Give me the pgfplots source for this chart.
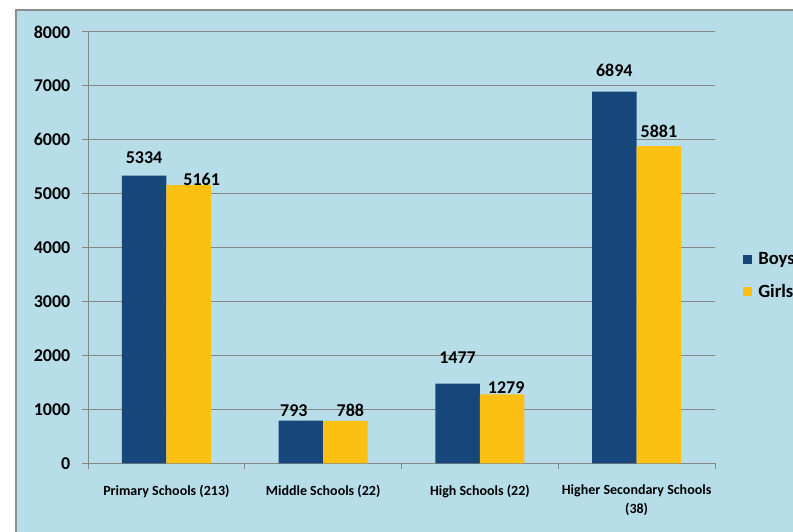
\documentclass[border=0pt]{standalone}
\usepackage{fontspec}
\setmainfont{Carlito}
\usepackage{pgfplots}
\usepackage{pgfplotstable}
\pgfplotsset{compat=1.18}
\definecolor{bgblue}{RGB}{183,221,232}
\definecolor{boys}{RGB}{23,71,122}
\definecolor{girls}{RGB}{252,192,18}
\definecolor{gridgray}{RGB}{134,134,134}
\definecolor{framegray}{RGB}{140,140,140}

% x, value, label offsets (px)
\pgfplotstableread{
x y dx dy
0 5334 0 18
1 793 -7 10
2 1477 0 26
3 6894 0 21
}\boysdata
\pgfplotstableread{
x y dx dy
0 5161 13 6
1 788 5 10
2 1279 4 7
3 5881 0 15
}\girlsdata

\begin{document}
\begin{tikzpicture}
\clip (0,0) rectangle (594.75pt,399pt);
\fill[white] (0,0) rectangle (594.75pt,399pt);
\filldraw[fill=bgblue, draw=framegray, line width=1.1pt] (12pt,-10pt) rectangle (610pt,391.5pt);
\begin{axis}[
  at={(66pt,51.5pt)}, anchor=south west,
  scale only axis, width=470.25pt, height=323.5pt,
  ybar=0pt, bar width=33.4pt,
  xmin=-0.5, xmax=3.5, ymin=0, ymax=8000,
  xtick={-0.5,0.5,1.5,2.5,3.5}, xticklabels={},
  extra x ticks={0,1,2,3},
  extra x tick labels={Primary Schools (213),Middle Schools (22),High Schools (22),{Higher Secondary Schools\\(38)}},
  extra x tick style={major tick length=0pt},
  ytick={0,1000,...,8000},
  tick align=outside, major tick length=4.5pt,
  axis x line*=bottom, axis y line*=left,
  axis line style={gridgray, line width=0.75pt, -},
  tick style={gridgray, line width=0.75pt},
  ymajorgrids, grid style={gridgray, line width=0.75pt},
  /pgf/number format/1000 sep={},
  /pgf/number format/assume math mode=true,
  yticklabel style={font=\fontsize{13.5}{16}\selectfont\bfseries, xshift=-5.25pt},
  xticklabel style={font=\fontsize{10.5}{14}\selectfont\bfseries, align=center, yshift=-12.5pt},
  nodes near coords,
  visualization depends on={\thisrow{dx} \as \ldx},
  visualization depends on={\thisrow{dy} \as \ldy},
  nodes near coords style={font=\fontsize{13.5}{16}\selectfont\bfseries, anchor=center,
    xshift=\ldx*0.75pt, yshift=\ldy*0.75pt},
  legend image code/.code={\fill[#1] (0pt,-3.4pt) rectangle (6.75pt,3.4pt);},
  legend style={at={(1.0447,0.4888)}, anchor=north west, draw=none, fill=none,
    font=\fontsize{14}{16}\selectfont\bfseries, inner sep=0pt,
    nodes={inner sep=0pt}, column sep=4.5pt, row sep=13pt},
  legend cell align=left,
]
\addplot[draw=none, fill=boys] table[x=x, y=y] {\boysdata};
\addlegendentry{Boys}
\addplot[draw=none, fill=girls] table[x=x, y=y] {\girlsdata};
\addlegendentry{Girls}
\end{axis}
\end{tikzpicture}
\end{document}
